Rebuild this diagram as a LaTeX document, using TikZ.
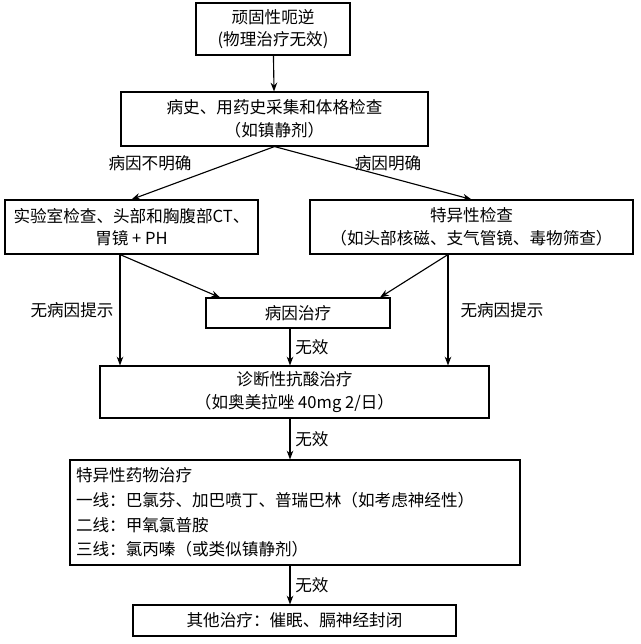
\documentclass[tikz,border=0pt]{standalone}
\usepackage{fontspec}
\setmainfont{Noto Sans CJK SC}
\usetikzlibrary{arrows.meta}
\tikzset{
  stepbox/.style={draw, thick, rectangle, align=center, inner sep=2pt, font=\fontsize{11.8}{16}\selectfont},
  flow/.style={->, >={Stealth[length=2.2mm]}, thick},
  lbl/.style={font=\fontsize{11.8}{13}\selectfont}
}
\begin{document}
\begin{tikzpicture}[x=0.025cm, y=-0.025cm]
\useasboundingbox (0,0) rectangle (640,644);
\node[stepbox, minimum width=154*0.025cm, minimum height=52*0.025cm] (start) at (273,29){顽固性呃逆\\(物理治疗无效)};
\node[stepbox, minimum width=307*0.025cm, minimum height=54*0.025cm] (history) at (274.5,119){病史、用药史采集和体格检查\\（如镇静剂）};
\node[stepbox, minimum width=253*0.025cm, minimum height=54*0.025cm] (lab) at (131.5,227){实验室检查、头部和胸腹部CT、\\胃镜 + PH};
\node[stepbox, minimum width=323*0.025cm, minimum height=54*0.025cm] (special) at (471.5,227){特异性检查\\（如头部核磁、支气管镜、毒物筛查）};
\node[stepbox, minimum width=184*0.025cm, minimum height=30*0.025cm] (cause) at (298,313){病因治疗};
\node[stepbox, minimum width=389*0.025cm, minimum height=52*0.025cm] (acid) at (294.5,392){诊断性抗酸治疗\\（如奥美拉唑 40mg 2/日）};
\node[stepbox, align=left, font=\fontsize{11.8}{17.5}\selectfont, minimum width=450*0.025cm, minimum height=105*0.025cm, text width=438*0.025cm] (drug) at (295,512.5){特异性药物治疗\\一线：巴氯芬、加巴喷丁、普瑞巴林（如考虑神经性）\\二线：甲氧氯普胺\\三线：氯丙嗪（或类似镇静剂）};
\node[stepbox, minimum width=323*0.025cm, minimum height=31*0.025cm] (other) at (294.5,620.5){其他治疗：催眠、膈神经封闭};

\node[lbl] (unclear) at (150,163){病因不明确};
\node[lbl] (clear) at (388,163){病因明确};
\node[lbl] (nohintl) at (72,310){无病因提示};
\node[lbl] (nohintr) at (502,310){无病因提示};

\draw[flow] (start) -- (history);
\draw[flow] (history.south) -- (lab.north);
\draw[flow] (history.south) -- (special.north);
\draw[flow] (lab.south -| 120,0) -- (acid.north -| 120,0);
\draw[flow] (special.south -| 448,0) -- (acid.north -| 448,0);
\draw[flow] (lab.south -| 120,0) -- (cause.north -| 220,0);
\draw[flow] (special.south -| 448,0) -- (cause.north -| 380,0);
\draw[flow] (cause.south -| 290,0) -- node[lbl, right]{无效} (acid.north -| 290,0);
\draw[flow] (acid.south -| 290,0) -- node[lbl, right]{无效} (drug.north -| 290,0);
\draw[flow] (drug.south -| 290,0) -- node[lbl, right]{无效} (other.north -| 290,0);
\end{tikzpicture}
\end{document}
